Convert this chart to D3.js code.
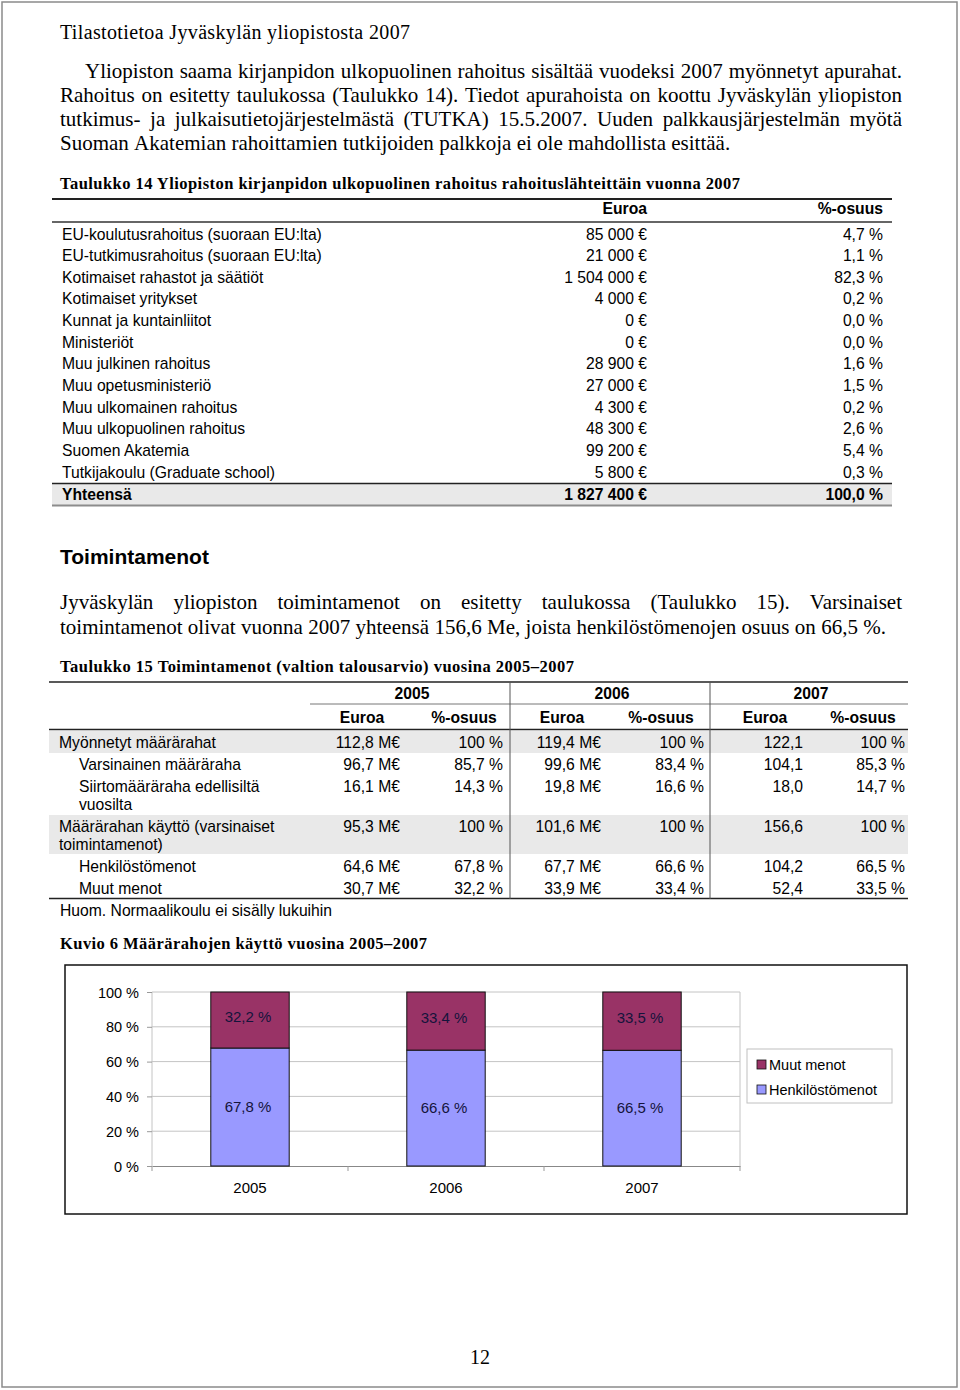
<!DOCTYPE html>
<html><head><meta charset="utf-8">
<script src="https://cdn.jsdelivr.net/npm/d3@7"></script>
<style>
html,body{margin:0;padding:0;background:#fff;}
svg{display:block;}
</style></head>
<body>
<script>
// ---------- DATA ----------
const pageTitle = "Tilastotietoa Jyväskylän yliopistosta 2007";
const para1 = [
  "Yliopiston saama kirjanpidon ulkopuolinen rahoitus sisältää vuodeksi 2007 myönnetyt apurahat.",
  "Rahoitus on esitetty taulukossa (Taulukko 14). Tiedot apurahoista on koottu Jyväskylän yliopiston",
  "tutkimus- ja julkaisutietojärjestelmästä (TUTKA) 15.5.2007. Uuden palkkausjärjestelmän myötä",
  "Suoman Akatemian rahoittamien tutkijoiden palkkoja ei ole mahdollista esittää."
];
const t14Title = "Taulukko 14 Yliopiston kirjanpidon ulkopuolinen rahoitus rahoituslähteittäin vuonna 2007";
const t14Headers = ["Euroa", "%-osuus"];
const t14Sources = ["EU-koulutusrahoitus (suoraan EU:lta)","EU-tutkimusrahoitus (suoraan EU:lta)","Kotimaiset rahastot ja säätiöt","Kotimaiset yritykset","Kunnat ja kuntainliitot","Ministeriöt","Muu julkinen rahoitus","Muu opetusministeriö","Muu ulkomainen rahoitus","Muu ulkopuolinen rahoitus","Suomen Akatemia","Tutkijakoulu (Graduate school)"];
const t14Euros = [85000, 21000, 1504000, 4000, 0, 0, 28900, 27000, 4300, 48300, 99200, 5800];
const t14Pcts = [4.7, 1.1, 82.3, 0.2, 0.0, 0.0, 1.6, 1.5, 0.2, 2.6, 5.4, 0.3];
const t14TotalLabel = "Yhteensä";
const t14TotalEuro = 1827400;
const t14TotalPct = 100.0;

const heading2 = "Toimintamenot";
const para2 = [
  "Jyväskylän yliopiston toimintamenot on esitetty taulukossa (Taulukko 15). Varsinaiset",
  "toimintamenot olivat vuonna 2007 yhteensä 156,6 Me, joista henkilöstömenojen osuus on 66,5 %."
];
const t15Title = "Taulukko 15 Toimintamenot (valtion talousarvio) vuosina 2005–2007";
const t15Years = ["2005", "2006", "2007"];
const t15SubHeaders = ["Euroa", "%-osuus"];
const t15Labels = [["Myönnetyt määrärahat"], ["Varsinainen määräraha"], ["Siirtomääräraha edellisiltä", "vuosilta"], ["Määrärahan käyttö (varsinaiset", "toimintamenot)"], ["Henkilöstömenot"], ["Muut menot"]];
const t15Indent = [false, true, true, false, true, true];
const t15Shaded = [true, false, false, true, false, false];
const euro2005 = [112.8, 96.7, 16.1, 95.3, 64.6, 30.7];
const pct2005 = [100, 85.7, 14.3, 100, 67.8, 32.2];
const euro2006 = [119.4, 99.6, 19.8, 101.6, 67.7, 33.9];
const pct2006 = [100, 83.4, 16.6, 100, 66.6, 33.4];
const euro2007 = [122.1, 104.1, 18.0, 156.6, 104.2, 52.4];
const pct2007 = [100, 85.3, 14.7, 100, 66.5, 33.5];
const t15Note = "Huom. Normaalikoulu ei sisälly lukuihin";

const chartTitle = "Kuvio 6 Määrärahojen käyttö vuosina 2005–2007";
const chartYears = ["2005", "2006", "2007"];
const henkilosto = [67.8, 66.6, 66.5];
const muut = [32.2, 33.4, 33.5];
const seriesNames = ["Muut menot", "Henkilöstömenot"];
const yTicks = [0, 20, 40, 60, 80, 100];
const pageNumber = "12";

// ---------- HELPERS ----------
const loc = d3.formatLocale({decimal: ",", thousands: "\u00a0", grouping: [3], currency: ["", "\u00a0€"]});
const fmtInt = loc.format(",");
const fmt1 = loc.format(".1f");
const SERIF = "'Liberation Serif','Times New Roman',serif";
const SANS = "'Liberation Sans',Arial,sans-serif";
const TS = 15.7; // table font size

const W = 960, H = 1390;
const svg = d3.select("body").append("svg").attr("width", W).attr("height", H);
svg.append("rect").attr("x", 2).attr("y", 2).attr("width", 955).attr("height", 1385)
  .attr("fill", "#fff").attr("stroke", "#8a8a8a").attr("stroke-width", 1.5);

function txt(g, s, x, y, o = {}) {
  const t = g.append("text").attr("x", x).attr("y", y).text(s)
    .attr("font-family", o.family || SANS).attr("font-size", o.size || TS)
    .attr("fill", o.fill || "#000");
  if (o.bold) t.attr("font-weight", "bold");
  if (o.anchor) t.attr("text-anchor", o.anchor);
  if (o.len) t.attr("textLength", o.len).attr("lengthAdjust", "spacing");
  return t;
}
// justified line: distribute extra space between words
function justify(s, x, y, width, size) {
  const t = svg.append("text").attr("y", y).attr("font-family", SERIF).attr("font-size", size).attr("fill", "#000");
  const words = s.split(" ");
  const spans = words.map(w => t.append("tspan").text(w));
  const widths = spans.map(sp => sp.node().getComputedTextLength());
  const total = d3.sum(widths);
  const gap = width ? (width - total) / (words.length - 1) : size * 0.25;
  let cx = x;
  spans.forEach((sp, i) => { sp.attr("x", cx); cx += widths[i] + gap; });
  return t;
}
function hline(x1, x2, y, w, c) {
  svg.append("line").attr("x1", x1).attr("x2", x2).attr("y1", y).attr("y2", y)
    .attr("stroke", c || "#222").attr("stroke-width", w || 1);
}

// ---------- HEADER TEXT ----------
txt(svg, pageTitle, 60, 39, {family: SERIF, size: 20, len: 350});
const p1x = [85, 60, 60, 60];
const p1len = [817, 842, 842, null];
para1.forEach((s, i) => justify(s, p1x[i], 78 + i * 24, p1len[i], 21));

// ---------- TABLE 14 ----------
txt(svg, t14Title, 60, 189, {family: SERIF, size: 16.5, bold: true, len: 680});
const t14L = 52, t14R = 892, c1R = 647, c2R = 883;
hline(t14L, t14R, 199, 2, "#222");
txt(svg, t14Headers[0], c1R, 214, {bold: true, anchor: "end"});
txt(svg, t14Headers[1], c2R, 214, {bold: true, anchor: "end"});
hline(t14L, t14R, 222, 1.5, "#333");
const y14 = d3.scalePoint().domain(t14Sources).range([234, 472]);
const rows14 = svg.append("g").selectAll("g").data(t14Sources).join("g")
  .attr("transform", d => `translate(0,${y14(d) + 5.5})`);
rows14.append("text").attr("x", 62).text(d => d);
rows14.append("text").attr("x", c1R).attr("text-anchor", "end").text((d, i) => fmtInt(t14Euros[i]) + "\u00a0€");
rows14.append("text").attr("x", c2R).attr("text-anchor", "end").text((d, i) => fmt1(t14Pcts[i]) + "\u00a0%");
rows14.selectAll("text").attr("font-family", SANS).attr("font-size", TS).attr("fill", "#000");
svg.append("rect").attr("x", t14L).attr("y", 484).attr("width", t14R - t14L).attr("height", 21).attr("fill", "#e9e9e9");
hline(t14L, t14R, 483.5, 1.5, "#222");
hline(t14L, t14R, 505.5, 2, "#8c8c8c");
txt(svg, t14TotalLabel, 62, 499.5, {bold: true});
txt(svg, fmtInt(t14TotalEuro) + "\u00a0€", c1R, 499.5, {bold: true, anchor: "end"});
txt(svg, fmt1(t14TotalPct) + "\u00a0%", c2R, 499.5, {bold: true, anchor: "end"});

// ---------- SECTION 2 ----------
txt(svg, heading2, 60, 564, {size: 21, bold: true});
justify(para2[0], 60, 609, 842, 21);
justify(para2[1], 60, 634, 826, 21);

// ---------- TABLE 15 ----------
txt(svg, t15Title, 60, 672, {family: SERIF, size: 16.5, bold: true, len: 514});
const t15L = 49, t15R = 908, yearBounds = [310, 510, 710, 908];
const valRight = [[400, 503], [601, 704], [803, 905]];
const subCenter = [[362, 464], [562, 661], [765, 863]];
const euroCols = [euro2005, euro2006, euro2007];
const pctCols = [pct2005, pct2006, pct2007];
const lineH = 18, rowPad = 22;
const rowH = t15Labels.map(l => rowPad + (l.length - 1) * lineH);
const rowTop = [];
let acc = 731;
rowH.forEach(h => { rowTop.push(acc); acc += h; });
const t15Bottom = acc;

t15Labels.forEach((l, i) => {
  if (t15Shaded[i]) svg.append("rect").attr("x", t15L).attr("y", rowTop[i]).attr("width", t15R - t15L)
    .attr("height", rowH[i] - (i === 0 ? 0 : 1)).attr("fill", "#e9e9e9");
});
hline(t15L, t15R, 682, 1.5, "#222");
hline(yearBounds[0], t15R, 704, 1, "#777");
hline(t15L, t15R, 729.5, 1.5, "#222");
hline(t15L, t15R, t15Bottom - 0.5, 1.5, "#222");
[510, 710].forEach(x => svg.append("line").attr("x1", x).attr("x2", x).attr("y1", 682).attr("y2", t15Bottom)
  .attr("stroke", "#555").attr("stroke-width", 1));
t15Years.forEach((y, k) => {
  txt(svg, y, (yearBounds[k] + yearBounds[k + 1]) / 2 + 2, 698.5, {bold: true, anchor: "middle"});
  txt(svg, t15SubHeaders[0], subCenter[k][0], 722.5, {bold: true, anchor: "middle"});
  txt(svg, t15SubHeaders[1], subCenter[k][1], 722.5, {bold: true, anchor: "middle"});
});
const rows15 = svg.append("g").selectAll("g").data(t15Labels).join("g")
  .attr("transform", (d, i) => `translate(0,${rowTop[i] + 16.5})`);
rows15.each(function(lines, i) {
  const g = d3.select(this);
  lines.forEach((s, j) => txt(g, s, t15Indent[i] ? 79 : 59, j * lineH, {}));
  for (let k = 0; k < 3; k++) {
    const e = euroCols[k][i], p = pctCols[k][i];
    txt(g, fmt1(e) + (k < 2 ? "\u00a0M€" : ""), valRight[k][0], 0, {anchor: "end"});
    txt(g, (p === 100 ? "100" : fmt1(p)) + "\u00a0%", valRight[k][1], 0, {anchor: "end"});
  }
});
txt(svg, t15Note, 60, t15Bottom + 16.5, {});

// ---------- CHART ----------
txt(svg, chartTitle, 60, 949, {family: SERIF, size: 16.5, bold: true, len: 367});
svg.append("rect").attr("x", 65).attr("y", 965).attr("width", 842).attr("height", 249)
  .attr("fill", "#fff").attr("stroke", "#111").attr("stroke-width", 1.5);
const px0 = 152, px1 = 740, py0 = 1166, py1 = 992;
const x = d3.scaleBand().domain(chartYears).range([px0, px1]).padding(0);
const y = d3.scaleLinear().domain([0, 100]).range([py0, py1]);
const cg = svg.append("g");
cg.selectAll("line.grid").data(yTicks.filter(t => t > 0)).join("line").attr("class", "grid")
  .attr("x1", px0).attr("x2", px1).attr("y1", d => y(d)).attr("y2", d => y(d))
  .attr("stroke", "#c4c4c4").attr("stroke-width", 1);
[px0, px1].forEach(xx => cg.append("line").attr("x1", xx).attr("x2", xx).attr("y1", py1).attr("y2", py0)
  .attr("stroke", "#c4c4c4"));
const yAxis = d3.axisLeft(y).tickValues(yTicks).tickSize(5).tickPadding(8).tickFormat(d => d + "\u00a0%");
const yg = cg.append("g").attr("transform", `translate(${px0},0)`).call(yAxis);
yg.select(".domain").remove();
yg.selectAll(".tick line").attr("stroke", "#999");
yg.selectAll(".tick text").attr("font-family", SANS).attr("font-size", 14.5).attr("fill", "#000").attr("dy", "0.35em");
const xAxis = d3.axisBottom(x).tickSize(0).tickPadding(16);
const xg = cg.append("g").attr("transform", `translate(0,${py0})`).call(xAxis);
xg.select(".domain").attr("stroke", "#888");
xg.selectAll(".tick text").attr("font-family", SANS).attr("font-size", 15).attr("fill", "#000");
const bounds = chartYears.map(d => x(d)).concat([px1]);
cg.selectAll("line.xt").data(bounds).join("line").attr("class", "xt")
  .attr("x1", d => d).attr("x2", d => d).attr("y1", py0).attr("y2", py0 + 5).attr("stroke", "#999");
const bw = x.bandwidth() * 0.4;
const stack = chartYears.map((yr, i) => ({yr, h: henkilosto[i], m: muut[i]}));
const bars = cg.selectAll("g.bar").data(stack).join("g").attr("class", "bar");
bars.append("rect").attr("x", d => x(d.yr) + (x.bandwidth() - bw) / 2).attr("width", bw)
  .attr("y", d => y(d.h)).attr("height", d => y(0) - y(d.h))
  .attr("fill", "#9999ff").attr("stroke", "#111").attr("stroke-width", 1);
bars.append("rect").attr("x", d => x(d.yr) + (x.bandwidth() - bw) / 2).attr("width", bw)
  .attr("y", d => y(d.h + d.m)).attr("height", d => y(d.h) - y(d.h + d.m))
  .attr("fill", "#993366").attr("stroke", "#111").attr("stroke-width", 1);
bars.append("text").attr("x", d => x(d.yr) + x.bandwidth() / 2 - 2).attr("y", d => y(d.h / 2)).attr("dy", "0.35em")
  .attr("text-anchor", "middle").text(d => fmt1(d.h) + "\u00a0%");
bars.append("text").attr("x", d => x(d.yr) + x.bandwidth() / 2 - 2).attr("y", d => y(d.h + d.m / 2) - 3).attr("dy", "0.35em")
  .attr("text-anchor", "middle").text(d => fmt1(d.m) + "\u00a0%");
bars.selectAll("text").attr("font-family", SANS).attr("font-size", 15).attr("fill", "#14143c");
const lg = cg.append("g").attr("transform", "translate(747,1049)");
lg.append("rect").attr("width", 145).attr("height", 54).attr("fill", "#fff").attr("stroke", "#c0c0c0");
const legColors = ["#993366", "#9999ff"];
const li = lg.selectAll("g").data(seriesNames).join("g").attr("transform", (d, i) => `translate(10,${16 + i * 25})`);
li.append("rect").attr("x", 0).attr("y", -5).attr("width", 9).attr("height", 9)
  .attr("fill", (d, i) => legColors[i]).attr("stroke", "#111").attr("stroke-width", 0.8);
li.append("text").attr("x", 12).attr("y", 0).attr("dy", "0.35em").text(d => d)
  .attr("font-family", SANS).attr("font-size", 14.5).attr("fill", "#000");

// ---------- PAGE NUMBER ----------
txt(svg, pageNumber, 480, 1364, {family: SERIF, size: 20, anchor: "middle"});
</script>
</body></html>
